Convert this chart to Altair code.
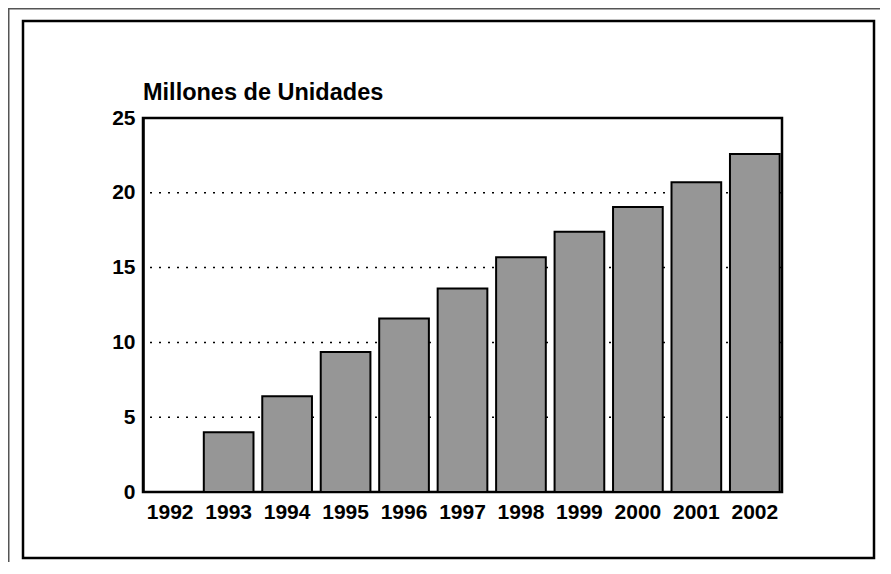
import altair as alt
import pandas as pd

years = ["1992", "1993", "1994", "1995", "1996", "1997", "1998", "1999", "2000", "2001", "2002"]
values = [0.0, 4.0, 6.4, 9.35, 11.6, 13.6, 15.7, 17.4, 19.05, 20.7, 22.6]
y_ticks = [0, 5, 10, 15, 20, 25]
grid_levels = [5, 10, 15, 20]
title_text = "Millones de Unidades"

df = pd.DataFrame({"year": years, "value": values})
grid_df = pd.DataFrame({"g": grid_levels})

FONT = "Liberation Sans"
one = pd.DataFrame({"a": [0]})

frame = alt.Chart(one).mark_rect(
    fillOpacity=0, stroke="black", strokeWidth=2.5
).encode(
    x=alt.value(-120), x2=alt.value(731),
    y=alt.value(-97), y2=alt.value(440),
)

outer_left = alt.Chart(one).mark_rect(fill="#555555").encode(
    x=alt.value(-135), x2=alt.value(-133.5), y=alt.value(-110), y2=alt.value(444)
)
outer_top = alt.Chart(one).mark_rect(fill="#555555").encode(
    x=alt.value(-135), x2=alt.value(737), y=alt.value(-110), y2=alt.value(-108.5)
)

title = alt.Chart(pd.DataFrame({"t": [title_text]})).mark_text(
    font=FONT, fontSize=23.5, fontWeight="bold", color="black",
    align="left", baseline="alphabetic"
).encode(
    text="t:N", x=alt.value(0), y=alt.value(-18)
)

grid = alt.Chart(grid_df).mark_rule(
    color="black", strokeWidth=1.5, strokeDash=[2, 7]
).encode(
    y=alt.Y("g:Q", scale=alt.Scale(domain=[0, 25]))
)

bars = alt.Chart(df).mark_bar(
    fill="#969696", stroke="black", strokeWidth=2
).encode(
    x=alt.X("year:N", sort=years,
            scale=alt.Scale(paddingInner=0.15, paddingOuter=0.04),
            axis=alt.Axis(title=None, labelAngle=0, ticks=False, domain=False,
                          labelFont=FONT, labelFontSize=21, labelFontWeight="bold",
                          labelColor="black", labelPadding=9)),
    y=alt.Y("value:Q", scale=alt.Scale(domain=[0, 25]),
            axis=alt.Axis(title=None, values=y_ticks, ticks=False, grid=False,
                          domainColor="black", domainWidth=2.5,
                          labelFont=FONT, labelFontSize=21, labelFontWeight="bold",
                          labelColor="black", labelPadding=8))
)

chart = alt.layer(outer_left, outer_top, frame, title, grid, bars).properties(
    width=639, height=374,
    background="white",
    autosize=alt.AutoSizeParams(type="none"),
    padding={"left": 135, "top": 110, "right": 100, "bottom": 70},
).configure_view(
    stroke="black", strokeWidth=2.5
)

chart.save("out.html", embed_options={"renderer": "svg", "actions": False})
